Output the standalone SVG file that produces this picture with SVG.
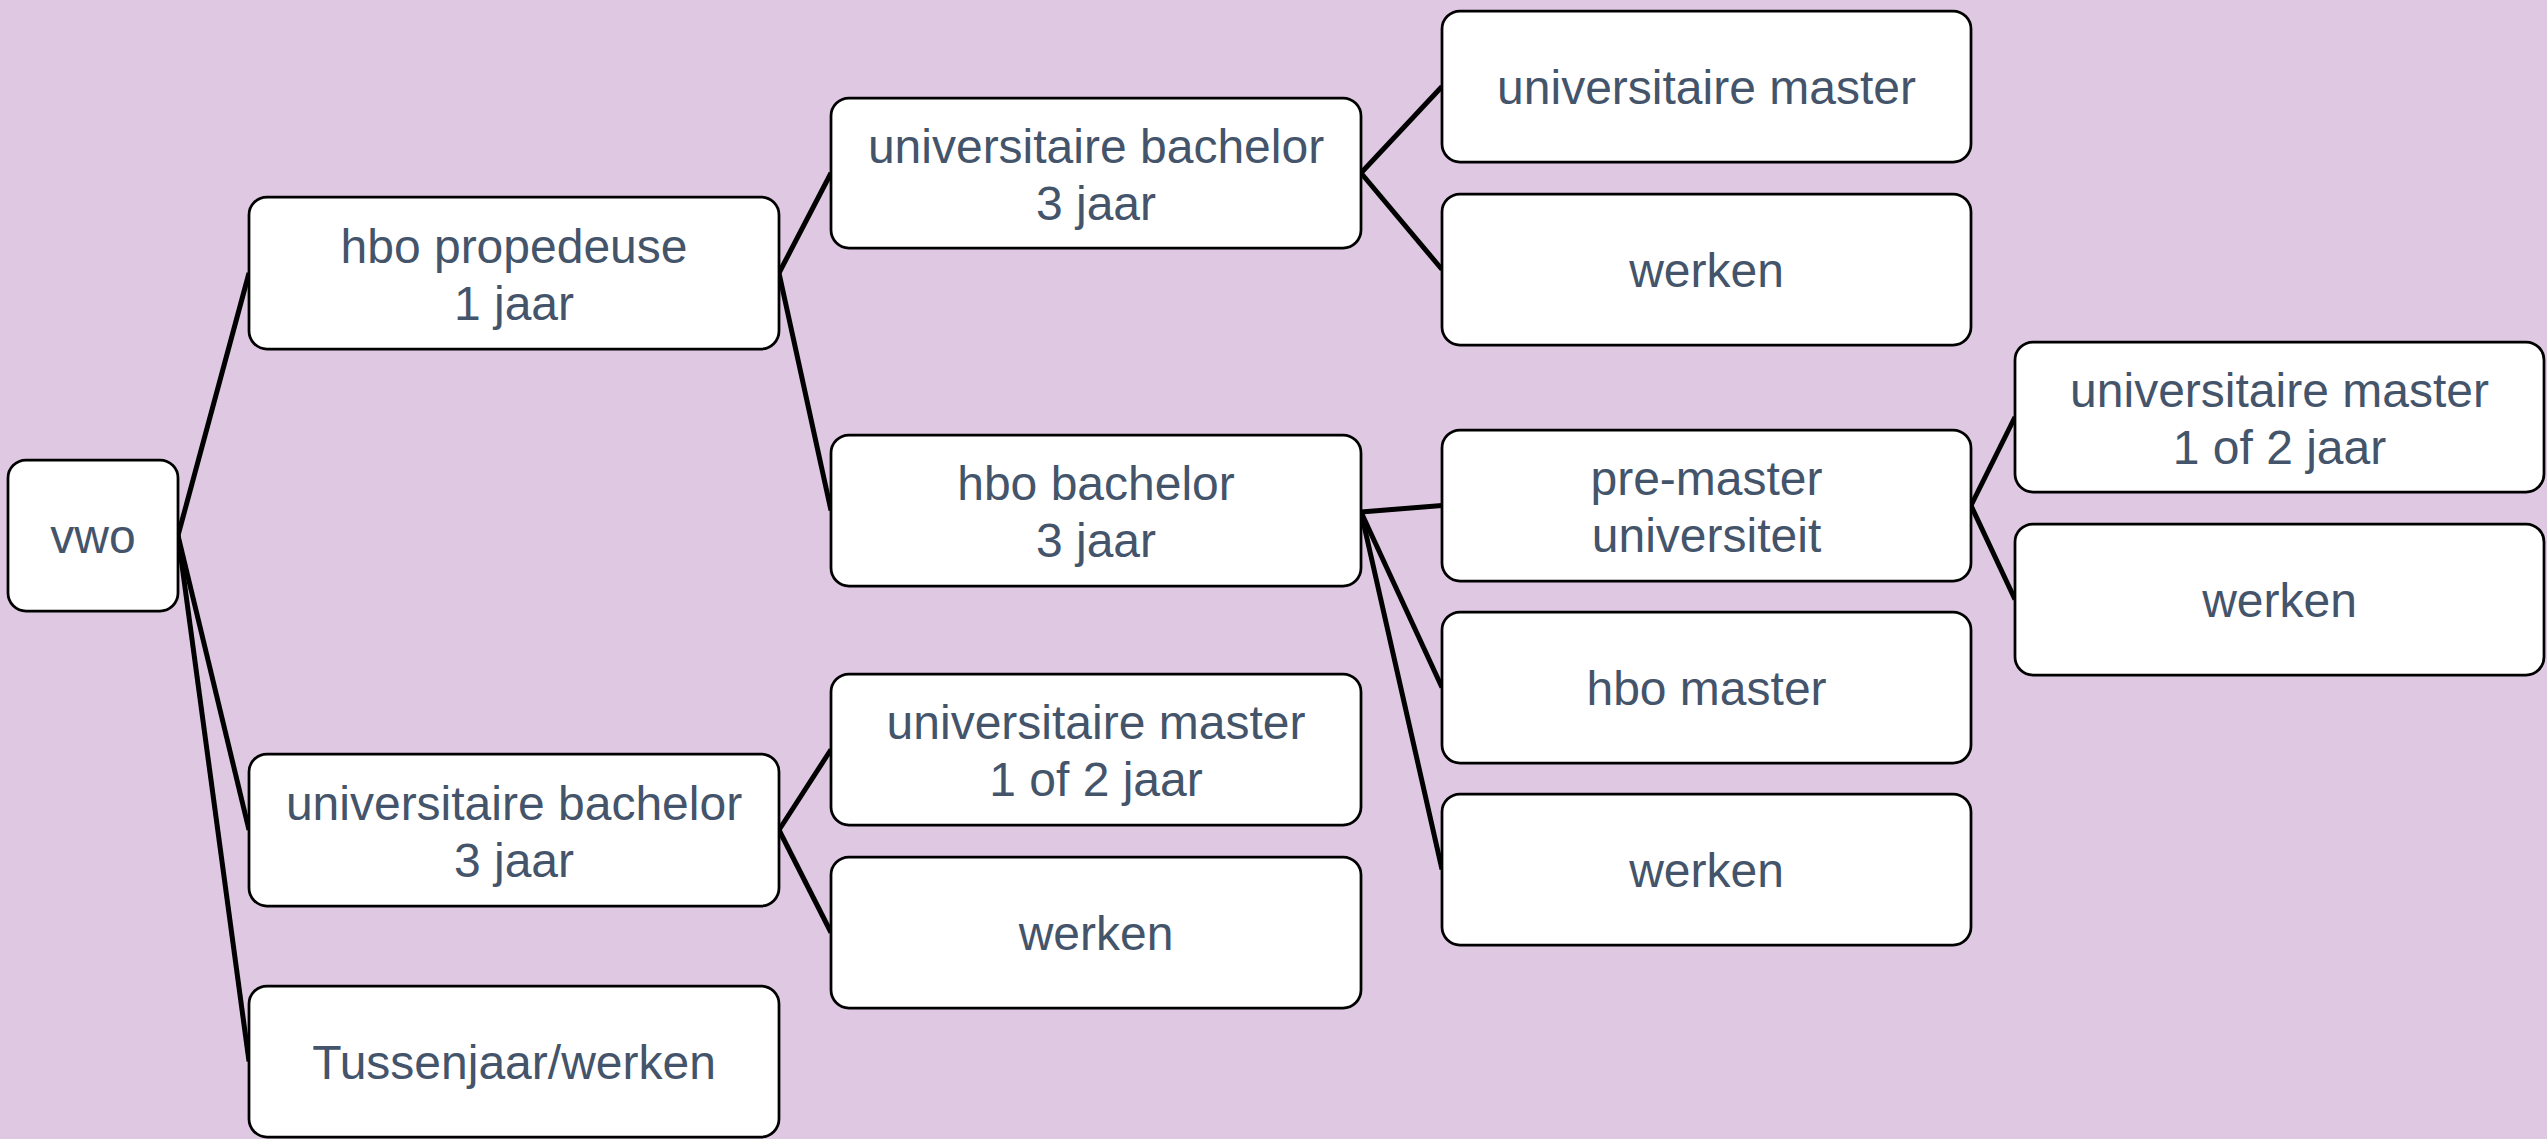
<svg xmlns="http://www.w3.org/2000/svg" width="2547" height="1139" viewBox="0 0 2547 1139">
<style>
.box{fill:#FFFFFF;stroke:#000000;stroke-width:2.75}
.lbl{font-family:"Liberation Sans",Arial,sans-serif;font-size:48px;fill:#44546A;text-anchor:middle}
.con line{stroke:#000000;stroke-width:5;stroke-linecap:butt}
</style>
<rect x="0" y="0" width="2547" height="1139" fill="#DFC9E2"/>
<g id="connectors" class="con">
<line x1="178" y1="535.5" x2="249" y2="273"/>
<line x1="178" y1="535.5" x2="249" y2="830"/>
<line x1="178" y1="535.5" x2="249" y2="1061.5"/>
<line x1="779" y1="273" x2="831" y2="173"/>
<line x1="779" y1="273" x2="831" y2="510.5"/>
<line x1="779" y1="830" x2="831" y2="749.5"/>
<line x1="779" y1="830" x2="831" y2="932.5"/>
<line x1="1361" y1="173" x2="1442" y2="86.5"/>
<line x1="1361" y1="173" x2="1442" y2="269.5"/>
<line x1="1361" y1="512" x2="1442" y2="505.5"/>
<line x1="1361" y1="512" x2="1442" y2="687.5"/>
<line x1="1361" y1="512" x2="1442" y2="869.5"/>
<line x1="1971" y1="505.5" x2="2015" y2="417"/>
<line x1="1971" y1="505.5" x2="2015" y2="599.5"/>
</g>
<g id="vwo"><rect class="box" x="8" y="460" width="170" height="151" rx="18"/><text class="lbl" x="93" y="553">vwo</text></g>
<g id="hbo-propedeuse"><rect class="box" x="249" y="197" width="530" height="152" rx="18"/><text class="lbl" x="514" y="262.5">hbo propedeuse</text><text class="lbl" x="514" y="319.5">1 jaar</text></g>
<g id="univ-bachelor-1"><rect class="box" x="249" y="754" width="530" height="152" rx="18"/><text class="lbl" x="514" y="819.5">universitaire bachelor</text><text class="lbl" x="514" y="876.5">3 jaar</text></g>
<g id="tussenjaar"><rect class="box" x="249" y="986" width="530" height="151" rx="18"/><text class="lbl" x="514" y="1079">Tussenjaar/werken</text></g>
<g id="univ-bachelor-2"><rect class="box" x="831" y="98" width="530" height="150" rx="18"/><text class="lbl" x="1096" y="162.5">universitaire bachelor</text><text class="lbl" x="1096" y="219.5">3 jaar</text></g>
<g id="hbo-bachelor"><rect class="box" x="831" y="435" width="530" height="151" rx="18"/><text class="lbl" x="1096" y="500">hbo bachelor</text><text class="lbl" x="1096" y="557">3 jaar</text></g>
<g id="univ-master-2"><rect class="box" x="831" y="674" width="530" height="151" rx="18"/><text class="lbl" x="1096" y="739">universitaire master</text><text class="lbl" x="1096" y="796">1 of 2 jaar</text></g>
<g id="werken-2"><rect class="box" x="831" y="857" width="530" height="151" rx="18"/><text class="lbl" x="1096" y="950">werken</text></g>
<g id="univ-master-3a"><rect class="box" x="1442" y="11" width="529" height="151" rx="18"/><text class="lbl" x="1706.5" y="104">universitaire master</text></g>
<g id="werken-3a"><rect class="box" x="1442" y="194" width="529" height="151" rx="18"/><text class="lbl" x="1706.5" y="287">werken</text></g>
<g id="pre-master"><rect class="box" x="1442" y="430" width="529" height="151" rx="18"/><text class="lbl" x="1706.5" y="495">pre-master</text><text class="lbl" x="1706.5" y="552">universiteit</text></g>
<g id="hbo-master"><rect class="box" x="1442" y="612" width="529" height="151" rx="18"/><text class="lbl" x="1706.5" y="705">hbo master</text></g>
<g id="werken-3b"><rect class="box" x="1442" y="794" width="529" height="151" rx="18"/><text class="lbl" x="1706.5" y="887">werken</text></g>
<g id="univ-master-4"><rect class="box" x="2015" y="342" width="529" height="150" rx="18"/><text class="lbl" x="2279.5" y="406.5">universitaire master</text><text class="lbl" x="2279.5" y="463.5">1 of 2 jaar</text></g>
<g id="werken-4"><rect class="box" x="2015" y="524" width="529" height="151" rx="18"/><text class="lbl" x="2279.5" y="617">werken</text></g>
</svg>
